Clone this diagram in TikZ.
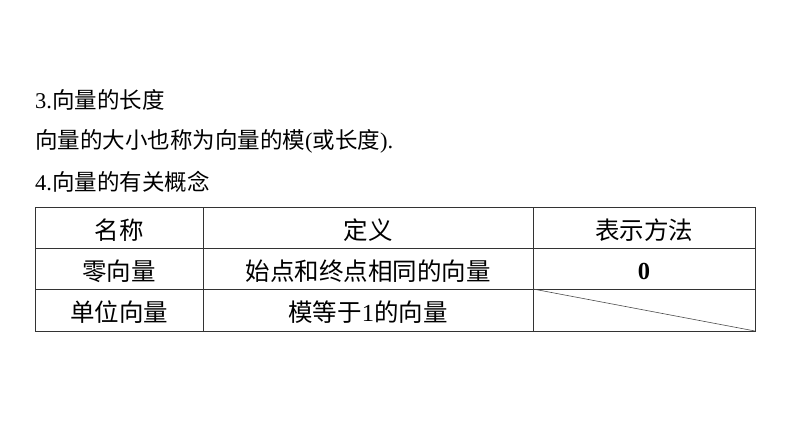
\documentclass[tikz,border=0pt]{standalone}
\usepackage{fontspec}
\setmainfont{Liberation Serif}
\newfontfamily\cjk{Noto Sans CJK SC}
\begin{document}
\begin{tikzpicture}[x=1pt,y=-1pt,
  txt/.style={anchor=west,inner sep=0pt,font=\fontsize{22.5}{26}\selectfont},
  cell/.style={inner sep=0pt,font=\fontsize{24.5}{28}\selectfont},
  grid/.style={draw=black!80,line width=0.8pt}]
\useasboundingbox[fill=white] (0,0) rectangle (794,447);
\node[txt] (t1) at (35,100) {3.{\cjk 向量的长度}};
\node[txt] (t2) at (35,141) {{\cjk 向量的大小也称为向量的模}({\cjk 或长度}).};
\node[txt] (t3) at (35,182) {4.{\cjk 向量的有关概念}};
\draw[grid] (35,207) rectangle (755,331);
\draw[grid] (35,248) -- (755,248) (35,289) -- (755,289)
  (203,207) -- (203,331) (533,207) -- (533,331);
\draw[draw=black!70,line width=0.6pt] (533,289) -- (755,331);
\node[cell] (a1) at (119,230) {\cjk 名称};
\node[cell] (a2) at (368,230) {\cjk 定义};
\node[cell] (a3) at (644,230) {\cjk 表示方法};
\node[cell] (b1) at (119,271) {\cjk 零向量};
\node[cell] (b2) at (368,271) {\cjk 始点和终点相同的向量};
\node[cell] (b3) at (644,271) {\bfseries 0};
\node[cell] (c1) at (119,312) {\cjk 单位向量};
\node[cell] (c2) at (368,312) {{\cjk 模等于}1{\cjk 的向量}};
\end{tikzpicture}
\end{document}
